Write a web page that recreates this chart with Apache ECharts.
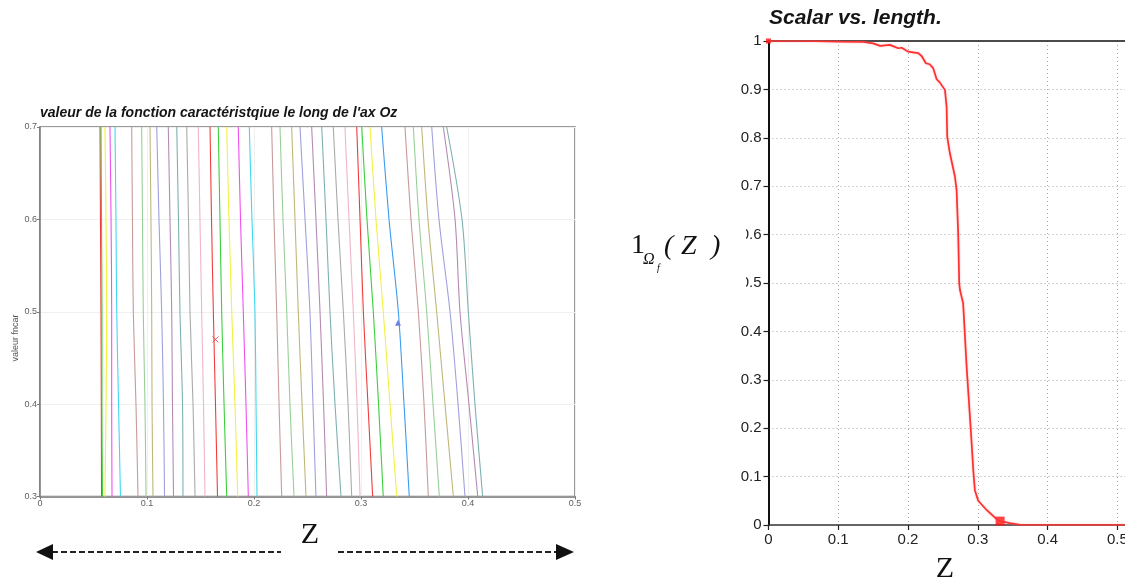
<!DOCTYPE html>
<html>
<head>
<meta charset="utf-8">
<script src="https://cdn.jsdelivr.net/npm/echarts@6/dist/echarts.min.js"></script>
<style>html,body{margin:0;padding:0;background:#fff;}#c{width:1125px;height:582px;}</style>
</head>
<body>
<div id="c"></div>
<script>
// ---------- Left chart data: characteristic function iso-lines ----------
const leftTitle = "valeur de la fonction caractéristqiue le long de l'ax Oz";
const leftYName = 'valeur fncar';
const leftXTicks = [0, 0.1, 0.2, 0.3, 0.4, 0.5];
const leftYTicks = [0.3, 0.4, 0.5, 0.6, 0.7];
const leftLevels = [0.7, 0.6, 0.5, 0.4, 0.3];
// z position of each line at the levels above
const leftLinesZ = [
  [0.0561, 0.0565, 0.0570, 0.0573, 0.0575],
  [0.0570, 0.0575, 0.0579, 0.0579, 0.0584],
  [0.0607, 0.0617, 0.0623, 0.0617, 0.0607],
  [0.0654, 0.0664, 0.0670, 0.0670, 0.0673],
  [0.0701, 0.0710, 0.0717, 0.0734, 0.0752],
  [0.0857, 0.0864, 0.0872, 0.0897, 0.0916],
  [0.0950, 0.0958, 0.0965, 0.0981, 0.0991],
  [0.1028, 0.1037, 0.1044, 0.1047, 0.1056],
  [0.1091, 0.1112, 0.1137, 0.1154, 0.1164],
  [0.1199, 0.1215, 0.1231, 0.1238, 0.1248],
  [0.1278, 0.1294, 0.1308, 0.1332, 0.1336],
  [0.1371, 0.1388, 0.1402, 0.1430, 0.1449],
  [0.1479, 0.1495, 0.1511, 0.1528, 0.1542],
  [0.1589, 0.1603, 0.1620, 0.1640, 0.1659],
  [0.1666, 0.1682, 0.1698, 0.1720, 0.1745],
  [0.1745, 0.1766, 0.1792, 0.1822, 0.1848],
  [0.1853, 0.1874, 0.1900, 0.1925, 0.1947],
  [0.1956, 0.1981, 0.2009, 0.2019, 0.2028],
  [0.2165, 0.2187, 0.2212, 0.2234, 0.2259],
  [0.2243, 0.2271, 0.2306, 0.2336, 0.2374],
  [0.2352, 0.2383, 0.2414, 0.2449, 0.2486],
  [0.2430, 0.2477, 0.2523, 0.2551, 0.2579],
  [0.2539, 0.2579, 0.2617, 0.2650, 0.2679],
  [0.2633, 0.2673, 0.2710, 0.2757, 0.2813],
  [0.2741, 0.2785, 0.2835, 0.2879, 0.2913],
  [0.2850, 0.2888, 0.2928, 0.2963, 0.2991],
  [0.2960, 0.2991, 0.3022, 0.3065, 0.3109],
  [0.3007, 0.3056, 0.3115, 0.3164, 0.3208],
  [0.3084, 0.3140, 0.3208, 0.3271, 0.3334],
  [0.3193, 0.3262, 0.3349, 0.3402, 0.3451],
  [0.3411, 0.3467, 0.3536, 0.3589, 0.3629],
  [0.3489, 0.3542, 0.3614, 0.3673, 0.3732],
  [0.3567, 0.3626, 0.3707, 0.3785, 0.3863],
  [0.3661, 0.3729, 0.3832, 0.3907, 0.3972],
  [0.3769, 0.3879, 0.3925, 0.4009, 0.4091],
  [0.3801, 0.3944, 0.4003, 0.4065, 0.4137]
];
const leftCrossPoint = [[0.164, 0.47]];
const leftTrianglePoint = [[0.3346, 0.488]];

// ---------- Right chart data: scalar vs length ----------
const rightTitle = 'Scalar vs. length.';
const rightXTicks = [0, 0.1, 0.2, 0.3, 0.4, 0.5];
const rightYTicks = [0, 0.1, 0.2, 0.3, 0.4, 0.5, 0.6, 0.7, 0.8, 0.9, 1];
const scalarZ = [0, 0.05, 0.1024, 0.136, 0.150, 0.160, 0.174, 0.186, 0.191, 0.200, 0.2146, 0.2195, 0.2256, 0.231, 0.236, 0.241, 0.2457, 0.2529, 0.2553, 0.2562, 0.260, 0.2672, 0.2696, 0.2719, 0.2734, 0.2744, 0.279, 0.284, 0.2862, 0.290, 0.2935, 0.2958, 0.3006, 0.3126, 0.327, 0.332, 0.346, 0.3627, 0.45, 0.511];
const scalarV = [1, 1, 0.9986, 0.998, 0.995, 0.990, 0.992, 0.985, 0.986, 0.978, 0.975, 0.969, 0.954, 0.952, 0.944, 0.921, 0.914, 0.899, 0.864, 0.802, 0.768, 0.720, 0.692, 0.603, 0.499, 0.486, 0.458, 0.327, 0.279, 0.196, 0.114, 0.072, 0.050, 0.031, 0.012, 0.008, 0.004, 0, 0, 0];
const scalarStartMarker = [[0, 1]];
const scalarEndMarker = [[0.332, 0.008]];

// ---------- styles ----------
const C = {red:'#f03c3c', green:'#3ccf3c', yellow:'#f2f040', magenta:'#f050f0', cyan:'#40d8f0',
  brown:'#c89a9a', lgreen:'#98cf98', olive:'#bfb77a', lav:'#a0a0dc', mauve:'#b58ab5',
  teal:'#7fb0b0', grey:'#aaaaaa', pink:'#f0b4c8', blue:'#3c9cf0'};
const cycle = [C.red, C.green, C.yellow, C.magenta, C.cyan, C.brown, C.lgreen, C.olive, C.lav, C.mauve, C.teal, C.grey, C.pink];
const lineColors = cycle.concat(cycle).concat([C.red, C.green, C.yellow, C.blue, C.brown, C.lgreen, C.olive, C.lav, C.mauve, C.teal]);

const sans = "'Liberation Sans', Arial, sans-serif";
const serif = "'Liberation Serif', 'Times New Roman', serif";

const series = [];
leftLinesZ.forEach((zs, i) => {
  series.push({
    type: 'line', xAxisIndex: 0, yAxisIndex: 0,
    data: leftLevels.map((y, k) => [zs[k], y]),
    showSymbol: false, smooth: 0.3, silent: true,
    lineStyle: {width: 1.1, color: lineColors[i % lineColors.length]},
    itemStyle: {color: lineColors[i % lineColors.length]}
  });
});
series.push({
  type: 'scatter', xAxisIndex: 0, yAxisIndex: 0, data: leftCrossPoint,
  symbol: 'path://M0,0L10,10M10,0L0,10', symbolSize: 6,
  itemStyle: {color: 'rgba(0,0,0,0)', borderColor: '#e03a3a', borderWidth: 1}
});
series.push({
  type: 'scatter', xAxisIndex: 0, yAxisIndex: 0, data: leftTrianglePoint,
  symbol: 'triangle', symbolSize: 6, itemStyle: {color: '#5a5ae0'}
});
series.push({
  type: 'line', xAxisIndex: 1, yAxisIndex: 1,
  data: scalarZ.map((z, i) => [z, scalarV[i]]),
  showSymbol: false, smooth: false,
  lineStyle: {width: 1.7, color: '#ff3030', shadowColor: 'rgba(255,120,120,0.6)', shadowBlur: 2},
  itemStyle: {color: '#ff3030'}
});
series.push({
  type: 'scatter', xAxisIndex: 1, yAxisIndex: 1, data: scalarStartMarker,
  symbol: 'rect', symbolSize: 5, itemStyle: {color: '#ff1010'}
});
series.push({
  type: 'scatter', xAxisIndex: 1, yAxisIndex: 1, data: scalarEndMarker,
  symbol: 'rect', symbolSize: 9, itemStyle: {color: '#ff1010'}
});

const option = {
  animation: false,
  backgroundColor: '#ffffff',
  title: [
    {text: leftTitle, left: 40, top: 106, padding: 0,
     textStyle: {fontSize: 14, fontStyle: 'italic', fontWeight: 'bold', color: '#151515', fontFamily: sans}},
    {text: rightTitle, left: 769, top: 8, padding: 0,
     textStyle: {fontSize: 21, fontStyle: 'italic', fontWeight: 'bold', color: '#151515', fontFamily: sans}}
  ],
  grid: [
    {left: 40, top: 127, width: 535, height: 369.5, show: true, borderColor: '#7a7a7a', borderWidth: 1.5,
     backgroundColor: 'rgba(0,0,0,0)', outerBoundsMode: 'none', containLabel: false},
    {left: 768.5, top: 41, width: 356.5, height: 484, outerBoundsMode: 'none', containLabel: false}
  ],
  xAxis: [
    {type: 'value', gridIndex: 0, min: leftXTicks[0], max: leftXTicks[leftXTicks.length - 1], interval: 0.1,
     axisLine: {show: true, lineStyle: {color: '#7a7a7a', width: 1.5}},
     axisTick: {show: true, length: 3, lineStyle: {color: '#7a7a7a'}},
     axisLabel: {fontSize: 9, color: '#606060', margin: 3, fontFamily: sans},
     splitLine: {show: true, lineStyle: {color: '#f0f0f0', width: 1}}},
    {type: 'value', gridIndex: 1, min: rightXTicks[0], max: 0.511, interval: 0.1,
     axisLine: {show: true, onZero: false, lineStyle: {color: '#333', width: 1.5}},
     axisTick: {show: true, length: 5, lineStyle: {color: '#222', width: 1.2}},
     axisLabel: {fontSize: 15, color: '#222', margin: 7, fontFamily: sans, showMaxLabel: false},
     splitLine: {show: true, showMaxLine: false, showMinLine: false, lineStyle: {color: '#a8a8a8', width: 1, type: [1, 3]}}},
    {type: 'value', gridIndex: 1, position: 'top', min: 0, max: 0.511,
     axisLine: {show: true, onZero: false, lineStyle: {color: '#111', width: 1.5}},
     axisTick: {show: false}, axisLabel: {show: false}, splitLine: {show: false}}
  ],
  yAxis: [
    {type: 'value', gridIndex: 0, min: leftYTicks[0], max: leftYTicks[leftYTicks.length - 1], interval: 0.1,
     axisLine: {show: true, lineStyle: {color: '#7a7a7a', width: 1.5}},
     axisTick: {show: true, length: 3, lineStyle: {color: '#7a7a7a'}},
     axisLabel: {fontSize: 9, color: '#606060', margin: 3, fontFamily: sans},
     splitLine: {show: true, lineStyle: {color: '#f0f0f0', width: 1}}},
    {type: 'value', gridIndex: 1, min: rightYTicks[0], max: rightYTicks[rightYTicks.length - 1], interval: 0.1,
     axisLine: {show: true, onZero: false, lineStyle: {color: '#111', width: 2}},
     axisTick: {show: true, length: 5, lineStyle: {color: '#222', width: 1.2}},
     axisLabel: {fontSize: 15, color: '#222', margin: 7, fontFamily: sans},
     splitLine: {show: true, showMaxLine: false, showMinLine: false, lineStyle: {color: '#a8a8a8', width: 1, type: [1, 3]}}}
  ],
  series: series,
  graphic: [
    {type: 'text', x: 16, y: 338, rotation: Math.PI / 2, z: 50,
     style: {text: leftYName, fontSize: 9, fill: '#555', fontFamily: sans, textAlign: 'center', textVerticalAlign: 'middle'}},
    {type: 'text', x: 310, y: 535, z: 50,
     style: {text: 'Z', fontSize: 30, fill: '#111', fontFamily: serif, textAlign: 'center', textVerticalAlign: 'middle'}},
    {type: 'line', z: 50, shape: {x1: 52, y1: 552, x2: 281, y2: 552},
     style: {stroke: '#222', lineWidth: 2, lineDash: [6, 3]}},
    {type: 'polygon', z: 50, shape: {points: [[36, 552], [53, 544], [53, 560]]}, style: {fill: '#111'}},
    {type: 'line', z: 50, shape: {x1: 338, y1: 552, x2: 557, y2: 552},
     style: {stroke: '#222', lineWidth: 2, lineDash: [6, 3]}},
    {type: 'polygon', z: 50, shape: {points: [[574, 552], [556, 544], [556, 560]]}, style: {fill: '#111'}},
    {type: 'text', x: 945, y: 569, z: 50,
     style: {text: 'Z', fontSize: 30, fill: '#111', fontFamily: serif, textAlign: 'center', textVerticalAlign: 'middle'}},
    {type: 'rect', z: 100, shape: {x: 700, y: 226, width: 46, height: 66}, style: {fill: '#ffffff'}},
    {type: 'text', x: 631, y: 246, z: 101,
     style: {text: '1', fontSize: 28, fill: '#111', fontFamily: serif, textVerticalAlign: 'middle'}},
    {type: 'text', x: 643, y: 260, z: 101,
     style: {text: 'Ω', fontSize: 16, fontStyle: 'italic', fill: '#111', fontFamily: serif, textVerticalAlign: 'middle'}},
    {type: 'text', x: 657, y: 268, z: 101,
     style: {text: 'f', fontSize: 10, fontStyle: 'italic', fill: '#111', fontFamily: serif, textVerticalAlign: 'middle'}},
    {type: 'text', x: 664, y: 247, z: 101,
     style: {text: '(', fontSize: 28, fontStyle: 'italic', fill: '#111', fontFamily: serif, textVerticalAlign: 'middle'}},
    {type: 'text', x: 681, y: 247, z: 101,
     style: {text: 'Z', fontSize: 28, fontStyle: 'italic', fill: '#111', fontFamily: serif, textVerticalAlign: 'middle'}},
    {type: 'text', x: 711, y: 247, z: 101,
     style: {text: ')', fontSize: 28, fontStyle: 'italic', fill: '#111', fontFamily: serif, textVerticalAlign: 'middle'}}
  ]
};

const chart = echarts.init(document.getElementById('c'), null, {renderer: 'canvas'});
chart.setOption(option);
</script>
</body>
</html>
